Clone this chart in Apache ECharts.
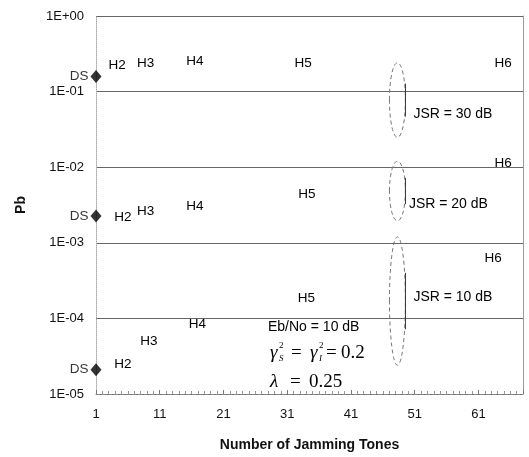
<!DOCTYPE html>
<html><head><meta charset="utf-8">
<script src="https://cdn.jsdelivr.net/npm/echarts@6/dist/echarts.min.js"></script>
<style>html,body{margin:0;padding:0;background:#fff}#c{width:529px;height:457px}</style>
</head><body><div id="c"></div>
<script>
// ---- data ----
const groupNames = ['JSR = 30 dB', 'JSR = 20 dB', 'JSR = 10 dB'];
const dsX = [1, 1, 1];
const dsPb = [0.158, 0.00226, 0.000021];
const hLabels = ['H2', 'H3', 'H4', 'H5', 'H6'];
const hX30 = [4.3, 8.8, 16.5, 33.5, 64.9];
const hPb30 = [0.22, 0.24, 0.248, 0.24, 0.24];
const hX20 = [5.2, 8.8, 16.5, 34.1, 64.9];
const hPb20 = [0.0022, 0.00264, 0.00307, 0.0044, 0.0113];
const hX10 = [5.2, 9.3, 16.9, 34.0, 63.3];
const hPb10 = [2.5e-5, 5.0e-5, 8.3e-5, 1.83e-4, 6.2e-4];
// JSR ellipse extents (x centre, top Pb, bottom Pb)
const ellX = [48.3, 48.3, 48.3];
const ellTop = [0.241, 0.012, 0.0012];
const ellBottom = [0.0248, 0.00195, 2.4e-5];
const jsrX = [50.8, 50.1, 50.8];
const jsrPb = [0.0498, 0.00326, 1.89e-4];

const sans = 'Liberation Sans, Arial, sans-serif';
const serif = 'Liberation Serif, Times New Roman, serif';

const chart = echarts.init(document.getElementById('c'));

function labelSeries(xs, ys) {
  return {
    type: 'scatter', symbol: 'circle', symbolSize: 1,
    itemStyle: { color: 'rgba(0,0,0,0)' },
    data: xs.map((x, i) => ({ value: [x, ys[i]], name: hLabels[i] })),
    label: { show: true, position: 'inside', formatter: p => p.name, color: '#000', opacity: 1,
      textBorderWidth: 0, fontFamily: sans, fontSize: 13.5 },
    emphasis: { disabled: true },
    silent: true, z: 5
  };
}

chart.setOption({
  animation: false,
  grid: { left: 96, right: 6, top: 16, bottom: 61 },
  xAxis: {
    type: 'value', min: 1, max: 68, interval: 10,
    name: 'Number of Jamming Tones', nameLocation: 'middle', nameGap: 44,
    nameTextStyle: { fontFamily: sans, fontWeight: 'bold', fontSize: 14, color: '#111' },
    axisLine: { show: true, onZero: false, lineStyle: { color: '#888', type: 'dashed', width: 1 } },
    axisTick: { show: true, inside: true, length: 4, lineStyle: { color: '#777' } },
    minorTick: { show: true, splitNumber: 10, length: 3, lineStyle: { color: '#999' } },
    axisLabel: { fontFamily: sans, fontSize: 13, color: '#111', margin: 14, showMaxLabel: false },
    splitLine: { show: false }
  },
  yAxis: [{
    type: 'log', logBase: 10, min: 1e-5, max: 1,
    name: 'Pb', nameLocation: 'middle', nameGap: 68,
    nameTextStyle: { fontFamily: sans, fontWeight: 'bold', fontSize: 14, color: '#111' },
    axisLine: { show: true, lineStyle: { color: '#aaa', type: 'dotted', width: 1 } },
    axisTick: { show: false },
    axisLabel: {
      fontFamily: sans, fontSize: 13, color: '#111', margin: 12,
      formatter: v => { const e = Math.round(Math.log10(v)); const a = Math.abs(e); return '1E' + (e >= 0 ? '+' : '-') + (a < 10 ? '0' : '') + a; }
    },
    splitLine: { show: true, lineStyle: { color: '#666', width: 1 } },
    minorSplitLine: { show: false }
  }, {
    type: 'log', logBase: 10, min: 1e-5, max: 1, position: 'right',
    axisLine: { show: true, lineStyle: { color: '#999', width: 1 } },
    axisTick: { show: false }, axisLabel: { show: false }, splitLine: { show: false }
  }],
  series: [
    {
      type: 'scatter', symbol: 'diamond', symbolSize: [11, 13],
      itemStyle: { color: '#000' },
      data: dsX.map((x, i) => [x, dsPb[i]]),
      label: { show: true, position: 'left', distance: 2, formatter: 'DS', color: '#000', fontFamily: sans, fontSize: 13.5 },
      emphasis: { disabled: true },
      z: 6
    },
    labelSeries(hX30, hPb30),
    labelSeries(hX20, hPb20),
    labelSeries(hX10, hPb10)
  ]
});

// annotations
const g = [];
for (let i = 0; i < 3; i++) {
  const t = chart.convertToPixel({ gridIndex: 0 }, [ellX[i], ellTop[i]]);
  const b = chart.convertToPixel({ gridIndex: 0 }, [ellX[i], ellBottom[i]]);
  g.push({ type: 'ellipse', shape: { cx: t[0], cy: (t[1] + b[1]) / 2, rx: 8, ry: (b[1] - t[1]) / 2 },
    style: { fill: null, stroke: '#777', lineWidth: 1, lineDash: [4, 3] }, z: 10 });
  const j = chart.convertToPixel({ gridIndex: 0 }, [jsrX[i], jsrPb[i]]);
  g.push({ type: 'text', x: j[0], y: j[1], style: { text: groupNames[i], font: '14px ' + sans, fill: '#000', textVerticalAlign: 'middle' }, z: 10 });
  g.push({ type: 'line', shape: { x1: t[0] + 8, y1: (t[1] + b[1]) / 2 - (b[1] - t[1]) * 0.22, x2: t[0] + 8, y2: (t[1] + b[1]) / 2 + (b[1] - t[1]) * 0.22 },
    style: { stroke: '#333', lineWidth: 1 }, z: 10 });
}
// parameter text
g.push({ type: 'text', x: 268, y: 327, style: { text: 'Eb/No = 10 dB', font: '14px ' + sans, fill: '#000', textVerticalAlign: 'middle' }, z: 10 });
const gy = 353;
const parts = [
  { t: 'γ', x: 270, y: gy, f: 'italic 19px ' + serif },
  { t: '2', x: 279, y: gy - 7, f: '9px ' + serif },
  { t: 'S', x: 279, y: gy + 6, f: 'italic 9px ' + serif },
  { t: '=', x: 291, y: gy, f: '19px ' + serif },
  { t: 'γ', x: 310, y: gy, f: 'italic 19px ' + serif },
  { t: '2', x: 319, y: gy - 7, f: '9px ' + serif },
  { t: 'I', x: 319, y: gy + 6, f: 'italic 9px ' + serif },
  { t: '=', x: 326, y: gy, f: '19px ' + serif },
  { t: '0.2', x: 341, y: gy, f: '19px ' + serif },
  { t: 'λ', x: 270, y: 382, f: 'italic 19px ' + serif },
  { t: '=', x: 290, y: 382, f: '19px ' + serif },
  { t: '0.25', x: 309, y: 382, f: '19px ' + serif }
];
parts.forEach(p => g.push({ type: 'text', x: p.x, y: p.y, style: { text: p.t, font: p.f, fill: '#000', textVerticalAlign: 'middle' }, z: 10 }));
chart.setOption({ graphic: g });
</script></body></html>
